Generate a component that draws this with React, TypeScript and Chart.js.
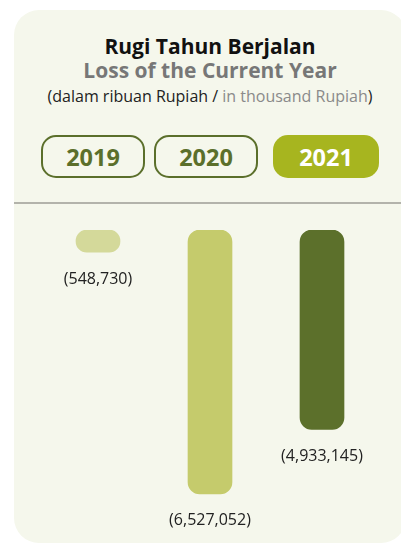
import React, { useEffect, useRef } from "react";
import { Chart, registerables } from "chart.js";

Chart.register(...registerables);

const categories = ["2019", "2020", "2021"];
const lossValues = [548730, 6527052, 4933145];
const barColors = ["#d4d99a", "#c5cb6c", "#5c702b"];
const activeYear = "2021";

const fmt = (v: number) => "(" + v.toLocaleString("en-US") + ")";

const labelPlugin = {
  id: "bottomLabels",
  afterDatasetsDraw(chart: any) {
    const ctx = chart.ctx;
    const meta = chart.getDatasetMeta(0);
    ctx.save();
    ctx.font = "16px 'Open Sans'";
    ctx.fillStyle = "#222222";
    ctx.textAlign = "center";
    ctx.textBaseline = "middle";
    meta.data.forEach((bar: any, i: number) => {
      const bottom = Math.max(bar.y, bar.base);
      ctx.fillText(fmt(lossValues[i]), bar.x, bottom + 27);
    });
    ctx.restore();
  },
};

function BarChart() {
  const ref = useRef<HTMLCanvasElement | null>(null);
  useEffect(() => {
    if (!ref.current) return;
    const chart = new Chart(ref.current, {
      type: "bar",
      data: {
        labels: categories,
        datasets: [
          {
            data: lossValues,
            backgroundColor: barColors,
            borderRadius: 12,
            borderSkipped: false,
            barThickness: 44,
          },
        ],
      },
      options: {
        animation: false,
        responsive: false,
        maintainAspectRatio: false,
        layout: { padding: { top: 0, bottom: 27, left: 0, right: 0 } },
        plugins: { legend: { display: false }, tooltip: { enabled: false } },
        scales: {
          x: { display: false, grid: { display: false } },
          y: { display: false, reverse: true, min: 0, max: 7000000 },
        },
      },
      plugins: [labelPlugin],
    });
    return () => chart.destroy();
  }, []);
  return (
    <canvas
      ref={ref}
      width={336}
      height={310}
      style={{ position: "absolute", left: 42, top: 230, width: 336, height: 310 }}
    />
  );
}

const pillBoxes = [
  { left: 41, width: 104 },
  { left: 154, width: 104 },
  { left: 273, width: 106 },
];

export default function App() {
  const font = "'Open Sans', sans-serif";
  return (
    <div
      style={{
        position: "fixed",
        left: 0,
        top: 0,
        width: 401,
        height: 545,
        overflow: "hidden",
        background: "#ffffff",
        fontFamily: font,
      }}
    >
      <div
        style={{
          position: "absolute",
          left: 14,
          top: 10,
          width: 392,
          height: 533,
          borderRadius: 25,
          background: "#f5f7ec",
        }}
      />
      <div
        style={{
          position: "absolute",
          left: 14,
          width: 392,
          top: 34,
          textAlign: "center",
          fontWeight: 700,
          fontSize: 21,
          lineHeight: "24px",
          color: "#111111",
        }}
      >
        Rugi Tahun Berjalan
      </div>
      <div
        style={{
          position: "absolute",
          left: 14,
          width: 392,
          top: 58,
          textAlign: "center",
          fontWeight: 700,
          fontSize: 21,
          lineHeight: "24px",
          color: "#777777",
        }}
      >
        Loss of the Current Year
      </div>
      <div
        style={{
          position: "absolute",
          left: 14,
          width: 392,
          top: 85,
          textAlign: "center",
          fontWeight: 400,
          fontSize: 16,
          lineHeight: "22px",
          color: "#222222",
        }}
      >
        (dalam ribuan Rupiah / <span style={{ color: "#8a8a8a" }}>in thousand Rupiah</span>)
      </div>
      {categories.map((c, i) => {
        const active = c === activeYear;
        return (
          <div
            key={c}
            style={{
              position: "absolute",
              left: pillBoxes[i].left,
              width: pillBoxes[i].width,
              top: 135,
              height: 43,
              boxSizing: "border-box",
              borderRadius: 15,
              border: active ? "none" : "2.5px solid #5b6f2b",
              background: active ? "#a7b51f" : "transparent",
              color: active ? "#ffffff" : "#5b6f2b",
              fontWeight: 700,
              fontSize: 23.5,
              display: "flex",
              alignItems: "center",
              justifyContent: "center",
            }}
          >
            {c}
          </div>
        );
      })}
      <div
        style={{
          position: "absolute",
          left: 14,
          top: 202,
          width: 392,
          height: 2,
          background: "#b3b3ab",
        }}
      />
      <BarChart />
    </div>
  );
}
